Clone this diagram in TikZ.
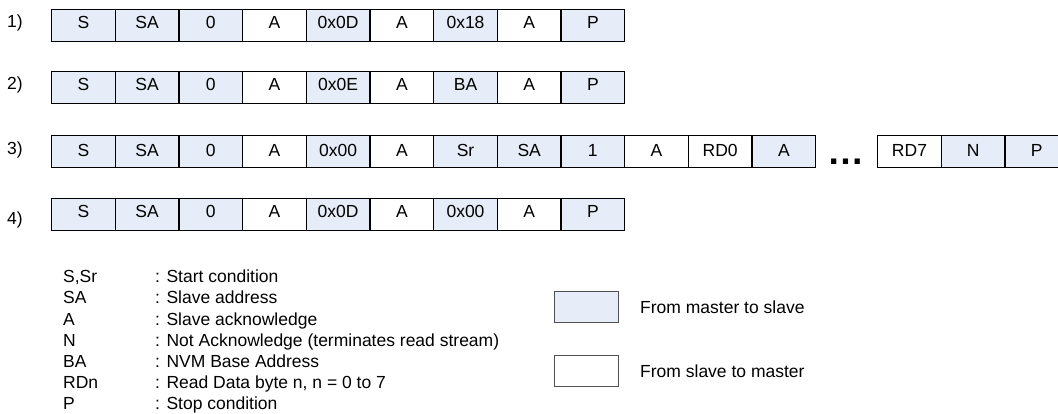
\documentclass[tikz,border=0pt]{standalone}
\usepackage{fontspec}
\setmainfont{Liberation Sans}
\definecolor{mfill}{RGB}{230,237,248}
\definecolor{lgray}{RGB}{80,80,80}
\begin{document}
\begin{tikzpicture}[x=1pt,y=-1pt,
  cell/.style={draw=black, line width=1.3pt, minimum width=63.67pt, minimum height=32pt,
    inner sep=0pt, anchor=north west, font=\fontsize{17.5}{20}\selectfont,
    text height=12.5pt, text depth=6pt},
  cellmid/.style={cell, text depth=2pt},
  rowlab/.style={anchor=base west, inner sep=0pt, font=\fontsize{17.5}{20}\selectfont},
  legtxt/.style={anchor=base west, inner sep=0pt, font=\fontsize{17.5}{20}\selectfont},
  legbox/.style={draw=lgray, line width=1pt, minimum width=64pt, minimum height=31pt,
    inner sep=0pt, anchor=north west}
]
\useasboundingbox (0,0) rectangle (1058,414);

% row labels
\node[rowlab] (l1) at (7,28) {1)};
\node[rowlab] (l2) at (7,90) {2)};
\node[rowlab] (l3) at (7,155) {3)};
\node[rowlab] (l4) at (7,225) {4)};

% row 1
\foreach \t/\f [count=\i from 0] in {S/mfill, SA/mfill, 0/mfill, A/white, 0x0D/mfill, A/white, 0x18/mfill, A/white, P/mfill}
  \node[cell, fill=\f] (ra\i) at (51+63.67*\i, 9) {\t};
% row 2
\foreach \t/\f [count=\i from 0] in {S/mfill, SA/mfill, 0/mfill, A/white, 0x0E/mfill, A/white, BA/mfill, A/white, P/mfill}
  \node[cell, fill=\f] (rb\i) at (51+63.67*\i, 71) {\t};
% row 3
\foreach \t/\f [count=\i from 0] in {S/mfill, SA/mfill, 0/mfill, A/white, 0x00/mfill, A/white, Sr/mfill, SA/mfill, 1/mfill, A/white, RD0/white, A/mfill}
  \node[cellmid, fill=\f] (rc\i) at (51+63.67*\i, 135) {\t};
\foreach \t/\f [count=\i from 0] in {RD7/white, N/mfill, P/mfill}
  \node[cellmid, fill=\f] (rd\i) at (877+63.67*\i, 135) {\t};
\node[anchor=base, inner sep=0pt, font=\bfseries\fontsize{37}{37}\selectfont] (dots) at (845.5,164.5) {…};
% row 4
\foreach \t/\f [count=\i from 0] in {S/mfill, SA/mfill, 0/mfill, A/white, 0x0D/mfill, A/white, 0x00/mfill, A/white, P/mfill}
  \node[cell, fill=\f] (re\i) at (51+63.67*\i, 198) {\t};

% legend
\node[legtxt] (k1) at (63,283) {S,Sr};
\node[legtxt] (k2) at (63,304) {SA};
\node[legtxt] (k3) at (63,325) {A};
\node[legtxt] (k4) at (63,346) {N};
\node[legtxt] (k5) at (63,367) {BA};
\node[legtxt] (k6) at (63,388) {RDn};
\node[legtxt] (k7) at (63,409) {P};
\node[legtxt] (v1) at (155,283) {: Start condition};
\node[legtxt] (v2) at (155,304) {: Slave address};
\node[legtxt] (v3) at (155,325) {: Slave acknowledge};
\node[legtxt] (v4) at (155,346) {: Not Acknowledge (terminates read stream)};
\node[legtxt] (v5) at (155,367) {: NVM Base Address};
\node[legtxt] (v6) at (155,388) {: Read Data byte n, n = 0 to 7};
\node[legtxt] (v7) at (155,409) {: Stop condition};

\node[legbox, fill=mfill] (bm) at (554,291) {};
\node[legbox, fill=white] (bs) at (554,355) {};
\node[legtxt] (tm) at (640,313) {From master to slave};
\node[legtxt] (ts) at (640,377) {From slave to master};
\end{tikzpicture}
\end{document}
